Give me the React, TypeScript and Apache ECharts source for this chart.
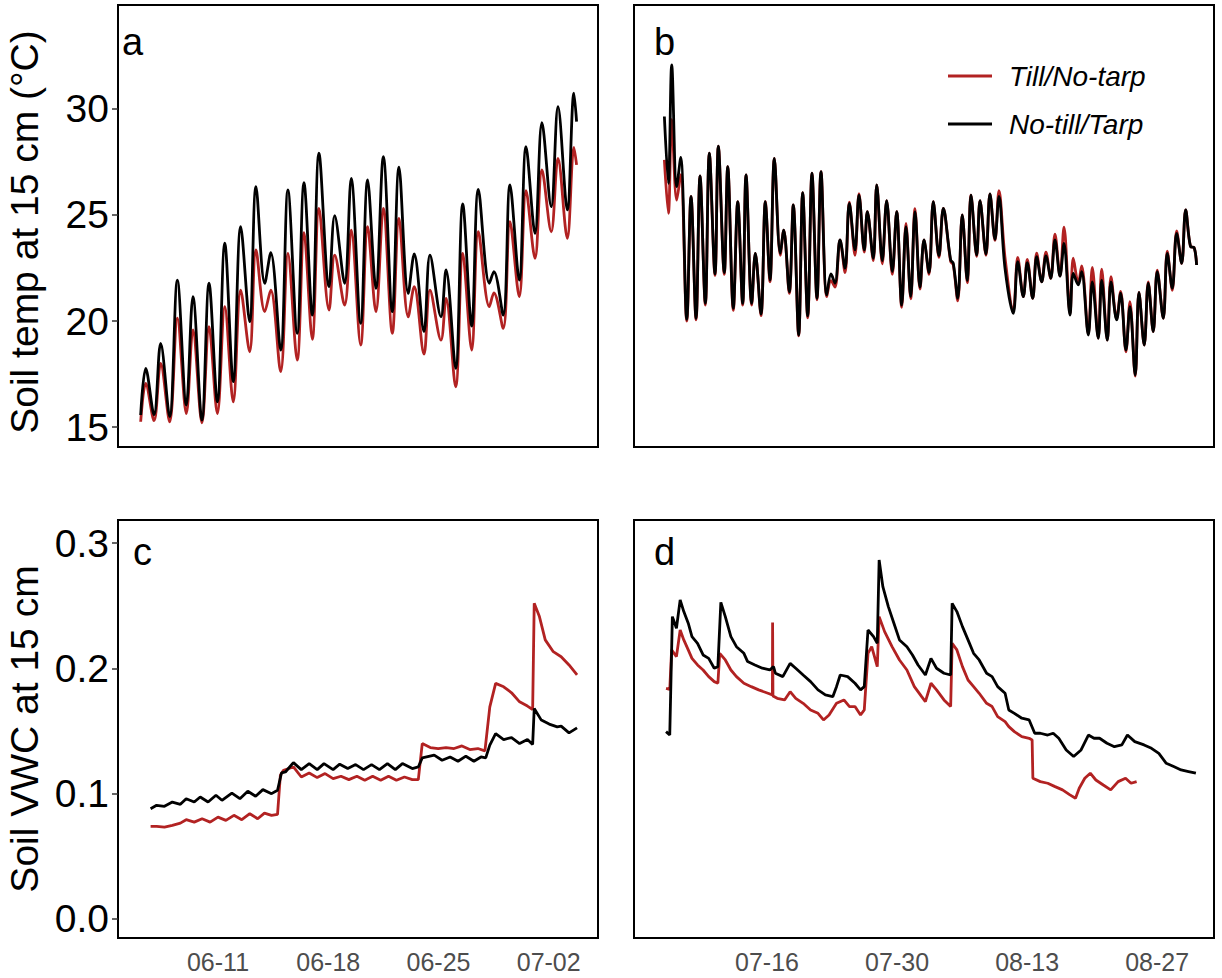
import React, { useEffect, useRef } from "react";
import * as echarts from "echarts";

const RED = "#B22222";
const BLACK = "#000000";
const FONT = "'Liberation Sans', Arial, Helvetica, sans-serif";

// x values are days since 06-01 (06-11 = day 10)
const tickDaysAC = [10, 17, 24, 31];
const tickDaysBD = [45, 59, 73, 87];
const tempTicks = [15, 20, 25, 30];
const vwcTicks = [0, 0.1, 0.2, 0.3];
const legendNames = ["Till/No-tarp", "No-till/Tarp"];
const panelTags = ["a", "b", "c", "d"];

// Panel a: soil temperature, early season
const tA = [5.09, 5.41, 5.94, 6.36, 6.93, 7.42, 7.99, 8.41, 8.98, 9.43,
  9.96, 10.43, 10.97, 11.44, 12.01, 12.41, 12.97, 13.35, 13.98, 14.44,
  15.03, 15.46, 15.99, 16.41, 17.05, 17.41, 18.04, 18.46, 19.06, 19.50,
  20.03, 20.50, 21.07, 21.49, 22.08, 22.46, 23.08, 23.46, 24.16, 24.48,
  25.09, 25.54, 26.11, 26.53, 27.23, 27.52, 28.11, 28.54, 29.13, 29.56,
  30.13, 30.57, 31.16, 31.59, 32.18, 32.60, 32.77];
const tempBlackA = [15.57, 17.77, 15.57, 18.95, 15.49, 21.93, 16.04, 21.15, 15.33, 21.78,
  16.19, 23.67, 17.14, 24.45, 19.97, 26.33, 21.78, 23.22, 18.63, 26.18,
  19.42, 26.52, 20.28, 27.91, 21.62, 24.97, 21.78, 26.73, 19.89, 26.65,
  21.54, 27.75, 20.44, 27.25, 21.30, 23.16, 19.50, 23.11, 20.20, 22.41,
  17.77, 25.52, 19.76, 26.21, 21.78, 22.33, 20.28, 26.42, 21.93, 28.22,
  24.13, 29.35, 25.39, 30.11, 25.24, 30.74, 29.40];
const tempRedA = [15.25, 17.06, 15.30, 18.00, 15.25, 20.13, 15.64, 19.58, 15.20, 19.73,
  15.64, 20.68, 16.19, 21.46, 18.55, 23.35, 20.44, 21.46, 17.61, 23.19,
  18.16, 24.17, 19.14, 25.31, 20.52, 23.11, 20.75, 24.29, 18.87, 24.45,
  20.44, 25.31, 19.42, 24.84, 20.20, 21.62, 18.44, 21.46, 19.10, 21.07,
  16.90, 23.19, 18.63, 24.21, 20.68, 21.33, 19.65, 24.69, 21.15, 26.15,
  22.96, 27.12, 24.21, 27.67, 23.90, 28.19, 27.36];

// Panel b: soil temperature, late season
const tB = [33.95, 34.38, 34.74, 35.28, 35.71, 36.36, 36.82, 37.36, 37.79, 38.36,
  38.79, 39.40, 39.76, 40.40, 40.77, 41.37, 41.85, 42.38, 42.74, 43.35,
  43.74, 44.35, 44.82, 45.32, 45.79, 46.43, 46.80, 47.40, 47.83, 48.41,
  48.84, 49.38, 49.84, 50.38, 50.81, 51.43, 51.89, 52.32, 52.86, 53.40,
  53.86, 54.47, 54.90, 55.47, 55.80, 56.44, 56.81, 57.41, 57.88, 58.49,
  58.96, 59.50, 59.96, 60.47, 60.93, 61.47, 61.90, 62.44, 62.90, 63.51,
  63.98, 64.77, 65.05, 65.53, 66.02, 66.56, 66.96, 67.57, 67.93, 68.57,
  69.00, 69.54, 69.97, 70.62, 71.51, 71.99, 72.59, 73.02, 73.60, 74.03,
  74.57, 75.03, 75.54, 76.00, 76.54, 76.97, 77.62, 77.97, 78.51, 78.87,
  79.59, 80.02, 80.66, 81.03, 81.63, 82.03, 82.64, 83.07, 83.64, 84.07,
  84.64, 85.04, 85.61, 86.04, 86.58, 87.01, 87.66, 88.09, 88.63, 89.10,
  89.64, 90.07, 90.61, 90.96, 91.25];
const tempBlackB = [29.64, 26.49, 32.08, 26.34, 27.72, 20.08, 25.87, 20.13, 26.84, 20.83,
  27.91, 22.22, 28.25, 22.28, 27.28, 20.60, 25.63, 20.83, 26.89, 20.83,
  23.19, 20.33, 25.63, 21.93, 27.67, 23.19, 24.29, 21.38, 25.47, 19.34,
  26.05, 20.24, 26.97, 21.07, 27.04, 21.23, 22.22, 21.78, 23.82, 22.49,
  25.55, 23.35, 25.94, 23.35, 25.16, 22.96, 26.42, 22.85, 25.68, 22.33,
  25.16, 20.75, 24.45, 21.15, 25.16, 21.59, 23.82, 22.28, 25.63, 23.07,
  25.31, 22.88, 22.72, 21.07, 25.00, 21.90, 25.94, 23.11, 25.68, 23.16,
  25.99, 23.85, 25.87, 22.49, 20.36, 22.80, 21.15, 22.75, 21.07, 23.03,
  21.85, 23.07, 22.01, 23.82, 22.12, 23.66, 20.28, 22.25, 21.70, 22.33,
  19.34, 21.85, 19.18, 21.93, 19.10, 21.85, 20.05, 21.31, 18.63, 20.68,
  17.45, 21.35, 18.87, 21.78, 19.50, 22.33, 20.13, 23.19, 21.54, 24.13,
  22.72, 25.24, 23.50, 23.47, 22.64];
const tempRedB = [27.60, 25.08, 29.50, 25.70, 26.90, 20.00, 25.87, 20.05, 26.84, 20.75,
  27.91, 22.15, 28.25, 22.20, 27.28, 20.50, 25.63, 20.75, 26.89, 20.75,
  23.19, 20.25, 25.63, 21.85, 27.67, 23.10, 24.29, 21.30, 25.47, 19.30,
  26.05, 20.15, 26.97, 21.00, 27.04, 21.15, 21.90, 21.60, 23.82, 22.28,
  25.60, 23.10, 26.00, 23.25, 25.16, 22.85, 26.42, 22.70, 25.68, 22.20,
  25.16, 20.65, 24.60, 21.05, 25.30, 21.50, 23.82, 22.20, 25.63, 23.00,
  25.31, 22.80, 22.65, 20.95, 25.00, 21.80, 25.94, 23.05, 25.68, 23.10,
  25.99, 23.80, 26.15, 23.00, 20.50, 23.00, 21.15, 22.90, 21.07, 23.20,
  21.85, 23.25, 22.01, 24.10, 22.12, 24.42, 20.35, 22.96, 21.80, 22.60,
  19.40, 22.53, 19.20, 22.44, 19.10, 22.09, 20.10, 21.40, 18.55, 20.91,
  17.40, 21.35, 18.87, 21.85, 19.50, 22.40, 20.13, 23.30, 21.45, 24.25,
  22.72, 25.24, 23.50, 23.47, 22.64];

// Panel c: soil VWC, early season
const tBlackC = [5.72, 6.10, 6.60, 7.10, 7.61, 7.98, 8.49, 8.87, 9.37, 9.87,
  10.25, 10.88, 11.39, 11.89, 12.39, 12.85, 13.40, 13.78, 14.03, 14.28,
  14.79, 15.29, 15.79, 16.30, 16.73, 17.31, 17.73, 18.24, 18.74, 19.24,
  19.75, 20.25, 20.76, 21.26, 21.71, 22.34, 22.72, 22.97, 23.73, 24.23,
  24.74, 25.24, 25.74, 26.25, 26.70, 27.00, 27.26, 27.63, 28.14, 28.64,
  29.15, 29.65, 29.98, 30.08, 30.53, 31.03, 31.54, 31.79, 32.29, 32.80];
const vwcBlackC = [0.0880, 0.0907, 0.0899, 0.0933, 0.0915, 0.0960, 0.0933, 0.0973, 0.0933, 0.0987,
  0.0947, 0.1005, 0.0960, 0.1019, 0.0979, 0.1032, 0.1000, 0.1027, 0.1165, 0.1173,
  0.1248, 0.1192, 0.1240, 0.1192, 0.1240, 0.1192, 0.1235, 0.1200, 0.1232, 0.1192,
  0.1232, 0.1192, 0.1240, 0.1192, 0.1240, 0.1200, 0.1213, 0.1285, 0.1307, 0.1267,
  0.1293, 0.1259, 0.1299, 0.1259, 0.1293, 0.1285, 0.1387, 0.1480, 0.1432, 0.1448,
  0.1400, 0.1432, 0.1392, 0.1680, 0.1587, 0.1555, 0.1533, 0.1539, 0.1485, 0.1525];
const tRedC = [5.72, 6.10, 6.60, 7.10, 7.61, 7.98, 8.49, 8.99, 9.50, 10.00,
  10.50, 11.01, 11.51, 12.02, 12.52, 12.95, 13.40, 13.78, 13.96, 14.16,
  14.79, 15.29, 15.79, 16.30, 16.80, 17.31, 17.81, 18.31, 18.82, 19.32,
  19.82, 20.33, 20.83, 21.33, 21.84, 22.34, 22.72, 22.97, 23.48, 23.98,
  24.48, 24.99, 25.49, 25.99, 26.50, 26.95, 27.26, 27.63, 28.14, 28.64,
  29.15, 29.65, 29.98, 30.08, 30.41, 30.78, 31.29, 31.79, 32.29, 32.80];
const vwcRedC = [0.0739, 0.0739, 0.0733, 0.0747, 0.0765, 0.0792, 0.0773, 0.0800, 0.0773, 0.0813,
  0.0787, 0.0827, 0.0792, 0.0840, 0.0800, 0.0845, 0.0827, 0.0835, 0.1147, 0.1187,
  0.1213, 0.1133, 0.1165, 0.1128, 0.1160, 0.1120, 0.1139, 0.1112, 0.1139, 0.1107,
  0.1139, 0.1107, 0.1139, 0.1107, 0.1133, 0.1112, 0.1112, 0.1400, 0.1368, 0.1360,
  0.1368, 0.1360, 0.1381, 0.1352, 0.1360, 0.1341, 0.1693, 0.1880, 0.1853, 0.1805,
  0.1733, 0.1699, 0.1672, 0.2520, 0.2413, 0.2227, 0.2133, 0.2093, 0.2027, 0.1947];

// Panel d: soil VWC, late season
const tBlackD = [34.13, 34.53, 34.81, 35.25, 35.65, 36.04, 36.52, 36.92, 37.52, 38.12,
  38.72, 39.32, 39.71, 40.03, 40.51, 41.11, 41.71, 42.51, 42.91, 43.70,
  44.50, 45.30, 45.70, 45.90, 46.70, 47.49, 48.09, 48.89, 49.69, 50.49,
  51.28, 52.08, 52.48, 52.88, 53.68, 54.47, 55.07, 55.47, 55.87, 56.47,
  56.87, 57.07, 57.47, 58.06, 58.66, 59.26, 60.06, 60.66, 61.26, 62.05,
  62.65, 63.25, 64.05, 64.77, 64.93, 65.44, 66.04, 66.64, 67.24, 67.84,
  68.64, 69.23, 69.83, 70.63, 71.03, 71.63, 72.43, 73.22, 73.82, 74.42,
  75.22, 75.81, 76.41, 77.21, 78.01, 78.81, 79.60, 80.20, 80.80, 81.60,
  82.40, 83.20, 83.80, 84.59, 85.59, 86.39, 87.18, 87.98, 88.78, 89.58,
  90.38, 91.17];
const vwcBlackD = [0.1495, 0.1468, 0.2413, 0.2320, 0.2546, 0.2453, 0.2360, 0.2253, 0.2200, 0.2107,
  0.2080, 0.2001, 0.2014, 0.2527, 0.2413, 0.2253, 0.2173, 0.2120, 0.2054, 0.2027,
  0.2001, 0.1987, 0.2014, 0.1961, 0.1934, 0.2040, 0.2001, 0.1947, 0.1894, 0.1828,
  0.1788, 0.1774, 0.1854, 0.1947, 0.1934, 0.1881, 0.1828, 0.1854, 0.2306, 0.2253,
  0.2200, 0.2865, 0.2652, 0.2493, 0.2360, 0.2227, 0.2173, 0.2107, 0.2027, 0.1947,
  0.2080, 0.2001, 0.1961, 0.1947, 0.2519, 0.2453, 0.2333, 0.2227, 0.2120, 0.2067,
  0.1961, 0.1934, 0.1854, 0.1801, 0.1668, 0.1641, 0.1602, 0.1588, 0.1482, 0.1482,
  0.1468, 0.1482, 0.1442, 0.1349, 0.1296, 0.1349, 0.1468, 0.1442, 0.1442, 0.1402,
  0.1375, 0.1389, 0.1468, 0.1415, 0.1389, 0.1362, 0.1322, 0.1242, 0.1216, 0.1189,
  0.1176, 0.1163];
const tRedD = [34.13, 34.53, 34.73, 35.25, 35.65, 36.04, 36.52, 36.92, 37.52, 38.12,
  38.72, 39.32, 39.71, 39.91, 40.51, 41.11, 41.71, 42.51, 43.30, 44.10,
  45.10, 45.58, 45.60, 45.64, 46.10, 46.89, 47.49, 48.09, 48.89, 49.69,
  50.49, 51.08, 51.68, 52.48, 53.28, 53.88, 54.47, 55.07, 55.47, 55.87,
  56.27, 56.87, 57.07, 57.66, 58.46, 59.26, 60.06, 60.86, 61.65, 62.05,
  62.65, 63.25, 64.05, 64.77, 64.93, 65.44, 66.04, 66.64, 67.24, 67.84,
  68.64, 69.23, 69.83, 70.63, 71.03, 71.63, 72.43, 73.22, 73.54, 73.62,
  74.42, 75.22, 76.01, 76.81, 77.61, 78.21, 78.61, 79.21, 79.80, 80.40,
  81.20, 82.00, 82.80, 83.60, 84.19, 84.79];
const vwcRedD = [0.1841, 0.1833, 0.2147, 0.2094, 0.2306, 0.2227, 0.2147, 0.2080, 0.2027, 0.1987,
  0.1934, 0.1894, 0.1881, 0.2120, 0.2067, 0.1987, 0.1934, 0.1881, 0.1854, 0.1828,
  0.1801, 0.1788, 0.2365, 0.1780, 0.1761, 0.1748, 0.1814, 0.1761, 0.1721, 0.1668,
  0.1641, 0.1588, 0.1628, 0.1721, 0.1748, 0.1695, 0.1695, 0.1628, 0.1668, 0.2120,
  0.2173, 0.2014, 0.2413, 0.2293, 0.2173, 0.2067, 0.1987, 0.1854, 0.1774, 0.1735,
  0.1881, 0.1828, 0.1748, 0.1695, 0.2200, 0.2147, 0.2014, 0.1907, 0.1854, 0.1801,
  0.1721, 0.1695, 0.1615, 0.1575, 0.1535, 0.1495, 0.1455, 0.1442, 0.1429, 0.1123,
  0.1096, 0.1083, 0.1056, 0.1030, 0.0990, 0.0963, 0.1043, 0.1123, 0.1163, 0.1109,
  0.1069, 0.1030, 0.1096, 0.1123, 0.1083, 0.1096];

const zip = (t: number[], v: number[]) => t.map((x, i) => [x, v[i]]);

function fmtDay(v: number): string {
  const d = new Date(2023, 5, 1 + Math.round(v));
  return String(d.getMonth() + 1).padStart(2, "0") + "-" + String(d.getDate()).padStart(2, "0");
}

const grids = [
  { left: 118, top: 5, width: 480, height: 442 },
  { left: 634, top: 5, width: 580, height: 442 },
  { left: 118, top: 520, width: 480, height: 418 },
  { left: 634, top: 520, width: 580, height: 418 },
];

function xAxisFor(gi: number, min: number, max: number, ticks: number[] | null) {
  return {
    gridIndex: gi,
    type: "value",
    min,
    max,
    axisLine: { show: false },
    axisTick: { show: false },
    splitLine: { show: false },
    axisLabel: ticks
      ? { show: true, customValues: ticks, formatter: (v: number) => fmtDay(v), color: "#4d4d4d", fontSize: 25, fontFamily: FONT, margin: 11 }
      : { show: false },
  };
}

function yAxisFor(gi: number, min: number, max: number, ticks: number[] | null, dec: number) {
  return {
    gridIndex: gi,
    type: "value",
    min,
    max,
    splitLine: { show: false },
    axisLine: { show: false },
    axisTick: ticks
      ? { show: true, customValues: ticks, length: 6, lineStyle: { color: "#333", width: 1.5 } }
      : { show: false },
    axisLabel: ticks
      ? { show: true, customValues: ticks, formatter: (v: number) => v.toFixed(dec), color: "#000", fontSize: 39, fontFamily: FONT, margin: 9 }
      : { show: false },
  };
}

function lineSeries(xi: number, data: number[][], color: string, smooth: number | boolean) {
  return {
    type: "line",
    xAxisIndex: xi,
    yAxisIndex: xi,
    data,
    showSymbol: false,
    symbol: "none",
    smooth,
    lineStyle: { color, width: 2.8 },
    itemStyle: { color },
    z: color === BLACK ? 3 : 2,
  };
}

export default function App() {
  const ref = useRef<HTMLDivElement>(null);
  useEffect(() => {
    document.body.style.margin = "0";
    if (!ref.current) return;
    const chart = echarts.init(ref.current, undefined, { renderer: "svg" });
    const tagPos = [[122, 61], [654, 61], [133, 571], [654, 571]];
    const option: any = {
      animation: false,
      backgroundColor: "#ffffff",
      grid: grids.map((g) => ({ ...g, show: true, borderColor: "#000", borderWidth: 2, backgroundColor: "transparent" })),
      xAxis: [
        xAxisFor(0, 3.65, 34.13, null),
        xAxisFor(1, 30.68, 93.12, null),
        xAxisFor(2, 3.65, 34.13, tickDaysAC),
        xAxisFor(3, 30.68, 93.12, tickDaysBD),
      ],
      yAxis: [
        yAxisFor(0, 14.06, 34.9, tempTicks, 0),
        yAxisFor(1, 14.06, 34.9, null, 0),
        yAxisFor(2, -0.0152, 0.3184, vwcTicks, 1),
        yAxisFor(3, -0.0152, 0.3184, null, 1),
      ],
      series: [
        lineSeries(0, zip(tA, tempRedA), RED, 0.35),
        lineSeries(0, zip(tA, tempBlackA), BLACK, 0.35),
        lineSeries(1, zip(tB, tempRedB), RED, 0.35),
        lineSeries(1, zip(tB, tempBlackB), BLACK, 0.35),
        lineSeries(2, zip(tRedC, vwcRedC), RED, false),
        lineSeries(2, zip(tBlackC, vwcBlackC), BLACK, false),
        lineSeries(3, zip(tRedD, vwcRedD), RED, false),
        lineSeries(3, zip(tBlackD, vwcBlackD), BLACK, false),
      ],
      graphic: [
        ...panelTags.map((tag, i) => ({
          type: "text",
          x: tagPos[i][0],
          y: tagPos[i][1],
          style: { text: tag, font: `38px ${FONT}`, fill: "#000", verticalAlign: "bottom" },
        })),
        {
          type: "text", x: 24, y: 232, rotation: Math.PI / 2,
          style: { text: "Soil temp at 15 cm (°C)", font: `39px ${FONT}`, fill: "#000", align: "center", verticalAlign: "middle" },
        },
        {
          type: "text", x: 24, y: 729, rotation: Math.PI / 2,
          style: { text: "Soil VWC at 15 cm", font: `39px ${FONT}`, fill: "#000", align: "center", verticalAlign: "middle" },
        },
        { type: "line", shape: { x1: 948, y1: 76, x2: 992, y2: 76 }, style: { stroke: RED, lineWidth: 2.8 } },
        { type: "line", shape: { x1: 948, y1: 124, x2: 992, y2: 124 }, style: { stroke: BLACK, lineWidth: 2.8 } },
        {
          type: "text", x: 1009, y: 76,
          style: { text: legendNames[0], font: `italic 28px ${FONT}`, fill: "#000", verticalAlign: "middle" },
        },
        {
          type: "text", x: 1009, y: 124,
          style: { text: legendNames[1], font: `italic 28px ${FONT}`, fill: "#000", verticalAlign: "middle" },
        },
      ],
    };
    chart.setOption(option);
    return () => chart.dispose();
  }, []);
  return <div ref={ref} style={{ width: 1222, height: 978 }} />;
}
